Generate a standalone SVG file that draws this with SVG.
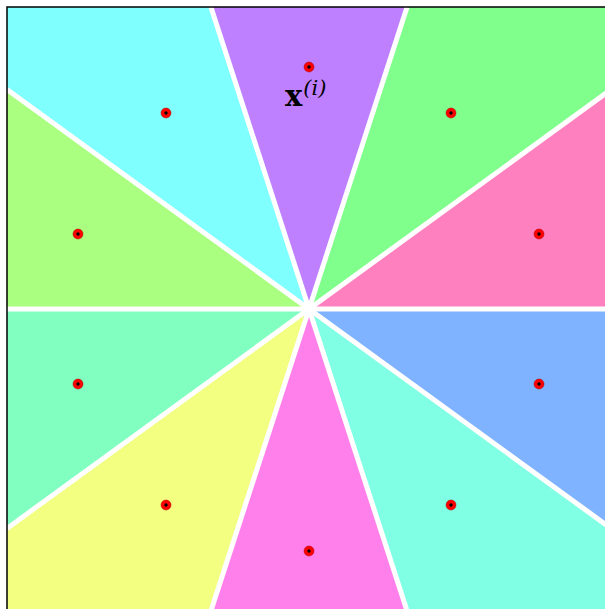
<svg xmlns="http://www.w3.org/2000/svg" width="605" height="609" viewBox="0 0 605 609">
<style>
.w{stroke:none}
.sep{stroke:#fff;stroke-width:5;fill:none}
.dot{fill:#ff0000;stroke:#b00000;stroke-width:0.5}
.ctr{fill:#000}
.lbl{font-family:"DejaVu Serif","Liberation Serif",serif;fill:#000}
</style>
<defs>
<g id="pt"><circle class="dot" r="5"/><circle class="ctr" r="1.7"/></g>
</defs>
<rect x="0" y="0" width="605" height="609" fill="#fff"/>
<g id="regions">
<polygon id="r-top" class="w" fill="#BF80FF" points="309,309 407.1,7 210.9,7"/>
<polygon id="r-tl" class="w" fill="#80FFFF" points="309,309 210.9,7 7,7 7,89.6"/>
<polygon id="r-l1" class="w" fill="#AAFF80" points="309,309 7,89.6 7,309"/>
<polygon id="r-l2" class="w" fill="#80FFC0" points="309,309 7,309 7,528.4"/>
<polygon id="r-bl" class="w" fill="#F2FF80" points="309,309 7,528.4 7,611 210.9,611"/>
<polygon id="r-bot" class="w" fill="#FF80EA" points="309,309 210.9,611 407.1,611"/>
<polygon id="r-br" class="w" fill="#80FFE5" points="309,309 407.1,611 611,611 611,528.4"/>
<polygon id="r-r2" class="w" fill="#80B3FF" points="309,309 611,528.4 611,309"/>
<polygon id="r-r1" class="w" fill="#FF80BF" points="309,309 611,309 611,89.6"/>
<polygon id="r-tr" class="w" fill="#80FF8C" points="309,309 611,89.6 611,7 407.1,7"/>
</g>
<g id="connectors">
<line class="sep" x1="7" y1="309" x2="611" y2="309"/>
<line class="sep" x1="7" y1="89.6" x2="611" y2="528.4"/>
<line class="sep" x1="611" y1="89.6" x2="7" y2="528.4"/>
<line class="sep" x1="210.9" y1="7" x2="407.1" y2="611"/>
<line class="sep" x1="407.1" y1="7" x2="210.9" y2="611"/>
</g>
<rect x="7" y="7" width="604" height="604" fill="none" stroke="#000" stroke-width="1.5"/>
<g id="points">
<use href="#pt" x="309" y="67"/>
<use href="#pt" x="166" y="113"/>
<use href="#pt" x="451" y="113"/>
<use href="#pt" x="78" y="234"/>
<use href="#pt" x="539" y="234"/>
<use href="#pt" x="78" y="384"/>
<use href="#pt" x="539" y="384"/>
<use href="#pt" x="166" y="505"/>
<use href="#pt" x="451" y="505"/>
<use href="#pt" x="309" y="551"/>
</g>
<g id="label">
<text class="lbl" x="285" y="106" font-size="29" font-weight="bold">x<tspan font-size="21" font-weight="normal" font-style="italic" dx="1" dy="-11">(i)</tspan></text>
</g>
</svg>
